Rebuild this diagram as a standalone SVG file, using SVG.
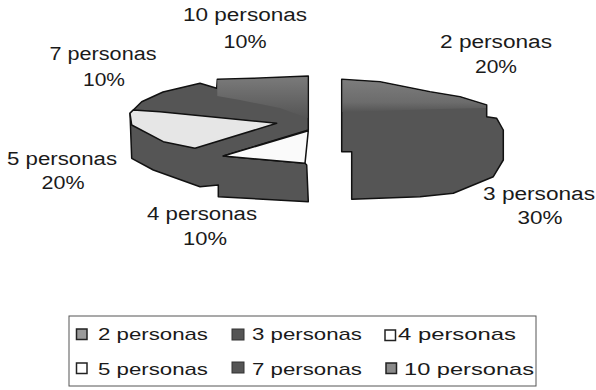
<svg xmlns="http://www.w3.org/2000/svg" width="596" height="390" viewBox="0 0 596 390">
<style>
.lbl{font-family:"Liberation Sans",Arial,sans-serif;font-size:18px;fill:#1a1a1a;text-anchor:middle}
.leg{font-family:"Liberation Sans",Arial,sans-serif;font-size:17px;fill:#1a1a1a}
.edge{stroke:#111;stroke-width:1.5;stroke-linejoin:round}
.dark{fill:#555555}
.pale{fill:#e6e6e6}
.white{fill:#fafafa}
</style>
<defs>
<linearGradient id="g10" x1="0" y1="0" x2="0" y2="1">
<stop offset="0" stop-color="#7a7a7a"/>
<stop offset="1" stop-color="#555555"/>
</linearGradient>
<linearGradient id="g2" x1="0" y1="0" x2="0" y2="1">
<stop offset="0" stop-color="#7c7c7c"/>
<stop offset="0.7" stop-color="#6c6c6c"/>
<stop offset="1" stop-color="#555555"/>
</linearGradient>
</defs>
<rect width="596" height="390" fill="#ffffff"/>

<g id="pie-left">
<polygon class="dark edge" points="141.7,101.7 163,92 200,83.3 216.7,88.3 217.3,79.3 253.3,78.3 308.3,76 308.3,130 223.3,156 305,163.3 306.7,165 308.3,201.7 218.3,196.7 218.3,185 200,186.7 153.3,170 131.7,158.3 130,113.3 133.3,110"/>
<polygon fill="url(#g10)" points="217.3,80 253.3,79 307.5,77 307.5,118 280,108 240,100 217.3,96"/>
<polygon class="pale edge" points="133.3,110 160,111.7 276.7,123.3 195,148.3 163.3,141.7 131.7,125 130,113.3"/>
<polygon class="white edge" points="308.3,130.7 223.3,156 305,163.3"/>
</g>

<g id="pie-right">
<polygon class="dark edge" points="341.7,79.3 380,81.7 430,91.7 460,96.7 486.7,105 486.7,116.7 496.7,118.3 503.3,130 503.3,160 493.3,176.7 453.3,193.3 420,196.7 351.7,199.3 351.7,151.7 341.7,151.7"/>
<polygon fill="url(#g2)" points="342.5,80 380,82.5 430,92.5 460,97.5 486,105.5 486,108 440,109 342.5,112"/>
</g>

<g id="labels">
<text class="lbl" x="245" y="21" textLength="124" lengthAdjust="spacingAndGlyphs">10 personas</text>
<text class="lbl" x="245" y="48" textLength="43" lengthAdjust="spacingAndGlyphs">10%</text>
<text class="lbl" x="103" y="60" textLength="107" lengthAdjust="spacingAndGlyphs">7 personas</text>
<text class="lbl" x="104" y="86" textLength="42" lengthAdjust="spacingAndGlyphs">10%</text>
<text class="lbl" x="62" y="165" textLength="110" lengthAdjust="spacingAndGlyphs">5 personas</text>
<text class="lbl" x="63" y="189" textLength="43" lengthAdjust="spacingAndGlyphs">20%</text>
<text class="lbl" x="202" y="220" textLength="110" lengthAdjust="spacingAndGlyphs">4 personas</text>
<text class="lbl" x="205" y="245" textLength="44" lengthAdjust="spacingAndGlyphs">10%</text>
<text class="lbl" x="496" y="48" textLength="112" lengthAdjust="spacingAndGlyphs">2 personas</text>
<text class="lbl" x="496" y="73" textLength="42" lengthAdjust="spacingAndGlyphs">20%</text>
<text class="lbl" x="539" y="200" textLength="112" lengthAdjust="spacingAndGlyphs">3 personas</text>
<text class="lbl" x="540" y="224" textLength="45" lengthAdjust="spacingAndGlyphs">30%</text>
</g>

<g id="legend">
<rect x="69" y="316" width="467" height="70" fill="none" stroke="#555" stroke-width="1"/>
<rect x="76.5" y="329" width="10.5" height="10.5" fill="#9a9a9a" stroke="#222" stroke-width="1.5"/>
<text class="leg" x="98" y="340" textLength="110" lengthAdjust="spacingAndGlyphs">2 personas</text>
<rect x="232" y="329" width="12" height="11" fill="#555" stroke="#333" stroke-width="1"/>
<text class="leg" x="252" y="340" textLength="110" lengthAdjust="spacingAndGlyphs">3 personas</text>
<rect x="385" y="330" width="10.5" height="10.5" fill="#fff" stroke="#222" stroke-width="1.5"/>
<text class="leg" x="398" y="340" textLength="118" lengthAdjust="spacingAndGlyphs">4 personas</text>
<rect x="76.5" y="363" width="10.5" height="10.5" fill="#fff" stroke="#222" stroke-width="1.5"/>
<text class="leg" x="98" y="375" textLength="110" lengthAdjust="spacingAndGlyphs">5 personas</text>
<rect x="232" y="362" width="12" height="11" fill="#555" stroke="#333" stroke-width="1"/>
<text class="leg" x="252" y="375" textLength="110" lengthAdjust="spacingAndGlyphs">7 personas</text>
<rect x="386" y="363" width="10.5" height="10.5" fill="#8a8a8a" stroke="#222" stroke-width="1.5"/>
<text class="leg" x="404" y="375" textLength="130" lengthAdjust="spacingAndGlyphs">10 personas</text>
</g>
</svg>
